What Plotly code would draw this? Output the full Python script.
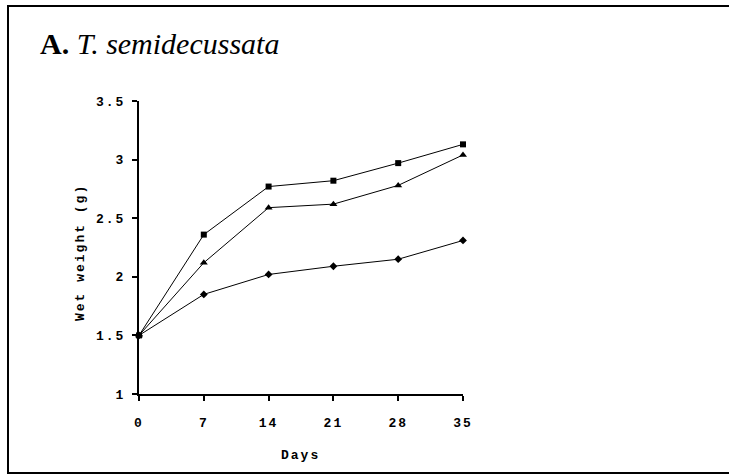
import plotly.graph_objects as go

days = [0, 7, 14, 21, 28, 35]
series_square = [1.50, 2.36, 2.77, 2.82, 2.97, 3.13]
series_triangle = [1.50, 2.12, 2.59, 2.62, 2.78, 3.04]
series_diamond = [1.50, 1.85, 2.02, 2.09, 2.15, 2.31]
y_ticks = [1, 1.5, 2, 2.5, 3, 3.5]
y_ticklabels = ["1", "1.5", "2", "2.5", "3", "3.5"]
x_ticks = [0, 7, 14, 21, 28, 35]
x_title = "Days"
y_title = "Wet weight (g)"

W, H = 729, 475
L, R, T, B = 139, 266, 101, 81
pw, ph = W - L - R, H - T - B

fig = go.Figure()
line = dict(color="black", width=1)
fig.add_trace(go.Scatter(x=days, y=series_diamond, mode="lines+markers", line=line,
                         marker=dict(symbol="diamond", size=6, color="black"), cliponaxis=False))
fig.add_trace(go.Scatter(x=days, y=series_triangle, mode="lines+markers", line=line,
                         marker=dict(symbol="triangle-up", size=7, color="black"), cliponaxis=False))
fig.add_trace(go.Scatter(x=days, y=series_square, mode="lines+markers", line=line,
                         marker=dict(symbol="square", size=6, color="black"), cliponaxis=False))

def px(x):
    return (x - L) / pw

def py(y):
    return (H - B - y) / ph

def spaced(t):
    return "<b><span style='letter-spacing:2px'>%s</span></b>" % t

frame = dict(color="black", width=2)
fig.add_shape(type="line", xref="paper", yref="paper", x0=px(8), x1=px(8), y0=py(473), y1=py(6), line=frame)
fig.add_shape(type="line", xref="paper", yref="paper", x0=px(7), x1=px(729), y0=py(6), y1=py(6), line=frame)
fig.add_shape(type="line", xref="paper", yref="paper", x0=px(7), x1=px(729), y0=py(473), y1=py(473), line=frame)

fig.add_annotation(xref="paper", yref="paper", x=px(38), y=py(62), xanchor="left", yanchor="bottom",
                   text="<b>A.</b> <i>T. semidecussata</i>",
                   showarrow=False,
                   font=dict(family="Liberation Serif", size=30, color="black"))

mono = dict(family="Liberation Mono", size=13, color="black")
fig.add_annotation(xref="paper", yref="paper", x=px(300), y=py(455), xanchor="center", yanchor="middle",
                   text=spaced(x_title), showarrow=False, font=mono)
fig.add_annotation(xref="paper", yref="paper", x=px(81), y=py(253), xanchor="center", yanchor="middle",
                   text=spaced(y_title), showarrow=False, font=mono, textangle=-90)

fig.update_xaxes(range=[0, 35], tickvals=x_ticks, ticktext=[spaced(d) for d in x_ticks],
                 ticks="outside", ticklen=5, tickwidth=2, ticklabelstandoff=10,
                 tickcolor="black", showline=True, linecolor="black", linewidth=2,
                 showgrid=False, zeroline=False, tickfont=mono)
fig.update_yaxes(range=[1, 3.5], tickvals=y_ticks, ticktext=[spaced(t) for t in y_ticklabels],
                 ticks="outside", ticklen=5, tickwidth=2, ticklabelstandoff=4,
                 tickcolor="black", showline=True, linecolor="black", linewidth=2,
                 showgrid=False, zeroline=False, tickfont=mono)

fig.update_layout(width=W, height=H, margin=dict(l=L, r=R, t=T, b=B),
                  paper_bgcolor="white", plot_bgcolor="white", showlegend=False)
fig.write_html("out.html", config={"displayModeBar": False},
               post_script="document.body.style.margin='0';")
